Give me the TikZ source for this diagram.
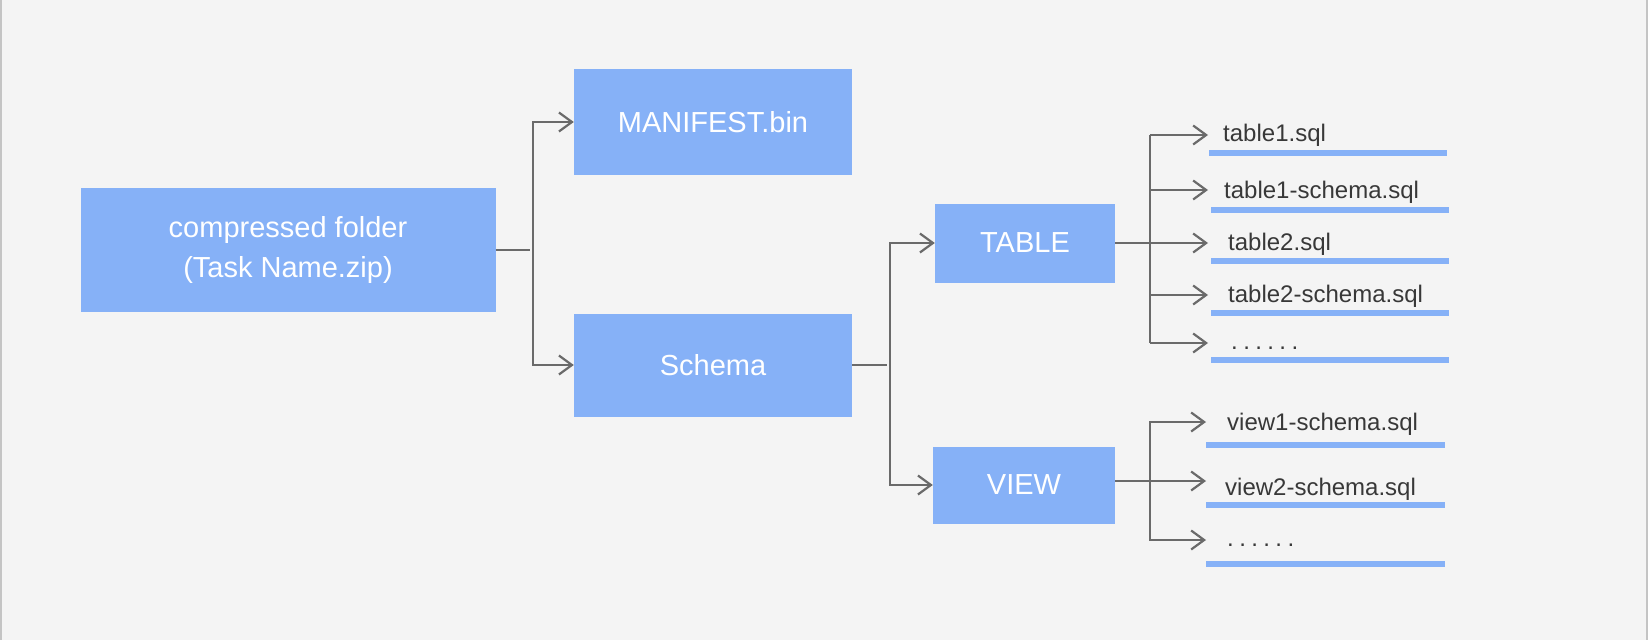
\documentclass[tikz,border=0pt]{standalone}
\usepackage{fontspec}
\setmainfont{Liberation Sans}
\usetikzlibrary{arrows.meta}
\definecolor{boxblue}{HTML}{86B1F7}
\definecolor{bgcol}{HTML}{F4F4F4}
\definecolor{conncol}{HTML}{6A6A6A}
\definecolor{txtcol}{HTML}{383838}
\definecolor{framecol}{HTML}{C4C4C4}
\newcommand{\sixdots}{.\hspace{5.4pt}.\hspace{5.4pt}.\hspace{5.4pt}.\hspace{5.4pt}.\hspace{5.4pt}.}
\begin{document}
\begin{tikzpicture}[x=1pt,y=-1pt,
  bluebox/.style={fill=boxblue, text=white, inner sep=0pt, align=center,
    font=\fontsize{29}{40}\selectfont},
  conn/.style={draw=conncol, line width=2.2pt},
  arr/.style={conn, -{Straight Barb[length=13pt,width=19pt,line width=2.2pt]}},
  filetext/.style={anchor=base west, inner sep=0pt, text=txtcol,
    font=\fontsize{24}{28}\selectfont},
  uline/.style={draw=boxblue, line width=6pt}]
\fill[bgcol] (0,0) rectangle (1648,640);
\useasboundingbox (0,0) rectangle (1648,640);
\draw[framecol, line width=2pt] (1,0) -- (1,640);
\draw[framecol, line width=2pt] (1647,0) -- (1647,640);

% main boxes
\node[bluebox, minimum width=415pt, minimum height=124pt] (comp) at (288,250)
  {compressed folder\\(Task Name.zip)};
\node[bluebox, minimum width=278pt, minimum height=106pt] (man) at (713,122) {MANIFEST.bin};
\node[bluebox, minimum width=278pt, minimum height=103pt] (sch) at (713,365) {Schema};
\node[bluebox, minimum width=180pt, minimum height=79pt] (tab) at (1025,243) {TABLE};
\node[bluebox, minimum width=182pt, minimum height=77pt] (view) at (1024,485) {VIEW};

% junctions
\coordinate (s1) at (530,250);
\coordinate (j1) at (533,250);
\coordinate (s2) at (887,365);
\coordinate (j2) at (890,365);
\coordinate (j3) at (1150,243);
\coordinate (j4) at (1150,481);

\draw[conn] (comp.east) -- (s1);
\draw[arr] (j1) |- (man.west);
\draw[arr] (j1) |- (sch.west);
\draw[conn] (sch.east) -- (s2);
\draw[arr] (j2) |- (tab.west);
\draw[arr] (j2) |- (view.west);

% file labels
\node[filetext] (t1) at (1223,141.7) {table1.sql};
\node[filetext] (t2) at (1224,198) {table1-schema.sql};
\node[filetext] (t3) at (1228,250) {table2.sql};
\node[filetext] (t4) at (1228,302) {table2-schema.sql};
\node[filetext] (t5) at (1231,349) {\sixdots};
\node[filetext] (v1) at (1227,430) {view1-schema.sql};
\node[filetext] (v2) at (1225,495) {view2-schema.sql};
\node[filetext] (v3) at (1227,546) {\sixdots};

% arrow tips
\coordinate (at1) at (1208,135);
\coordinate (at2) at (1208,190);
\coordinate (at3) at (1208,243);
\coordinate (at4) at (1208,295);
\coordinate (at5) at (1208,343);
\coordinate (av1) at (1206,422);
\coordinate (av2) at (1206,481);
\coordinate (av3) at (1206,540);

\draw[arr] (tab.east) -- (at3);
\draw[conn] (j3) -- (j3 |- at1);
\draw[conn] (j3) -- (j3 |- at5);
\draw[arr] (j3 |- at1) -- (at1);
\draw[arr] (j3 |- at2) -- (at2);
\draw[arr] (j3 |- at4) -- (at4);
\draw[arr] (j3 |- at5) -- (at5);

\draw[conn] (view.east |- j4) -- (j4);
\draw[arr] (j4) |- (av1);
\draw[arr] (j4) -- (av2);
\draw[arr] (j4) |- (av3);

% underlines
\draw[uline] (1209,153) -- (1447,153);
\draw[uline] (1211,210) -- (1449,210);
\draw[uline] (1211,261) -- (1449,261);
\draw[uline] (1211,313) -- (1449,313);
\draw[uline] (1211,360) -- (1449,360);
\draw[uline] (1206,445) -- (1445,445);
\draw[uline] (1206,505) -- (1445,505);
\draw[uline] (1206,564) -- (1445,564);
\end{tikzpicture}
\end{document}
